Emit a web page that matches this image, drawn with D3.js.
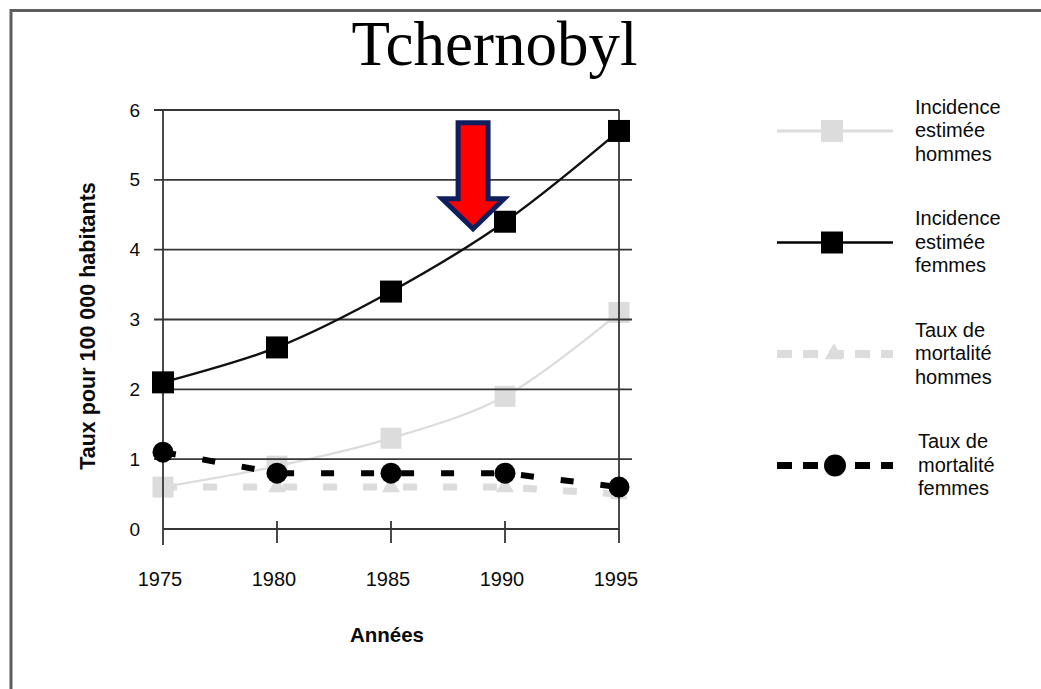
<!DOCTYPE html>
<html>
<head>
<meta charset="utf-8">
<script src="https://cdn.jsdelivr.net/npm/d3@7"></script>
<style>
  html, body { margin: 0; padding: 0; background: #fff; }
  svg { display: block; }
</style>
</head>
<body>
<svg id="chart" width="1041" height="689"></svg>
<script>
// ---- data ----
const years = [1975, 1980, 1985, 1990, 1995];
const incidenceHommes = [0.6, 0.9, 1.3, 1.9, 3.1];
const incidenceFemmes = [2.1, 2.6, 3.4, 4.4, 5.7];
const mortaliteHommes = [0.6, 0.6, 0.6, 0.6, 0.5];
const mortaliteFemmes = [1.1, 0.8, 0.8, 0.8, 0.6];
const yTicks = [0, 1, 2, 3, 4, 5, 6];
const xTickLabels = ["1975", "1980", "1985", "1990", "1995"];
const legendLabels = [
  ["Incidence", "estimée", "hommes"],
  ["Incidence", "estimée", "femmes"],
  ["Taux de", "mortalité", "hommes"],
  ["Taux de", "mortalité", "femmes"]
];
const titleText = "Tchernobyl";
const xTitleText = "Années";
const yTitleText = "Taux pour 100 000 habitants";
// annotation arrow: where its tip points
const arrowYear = 1988.6;
const arrowValue = 4.3;

// ---- layout ----
const svg = d3.select("#chart");
const sans = "'Liberation Sans', Arial, sans-serif";
const grey = "#dcdcdc";
const gridColor = "#363636";
const ink = "#0a0a0a";

const x = d3.scaleLinear().domain([1975, 1995]).range([163, 619]);
const y = d3.scaleLinear().domain([0, 6]).range([529, 110]);

// outer frame (top and left edges)
svg.append("path")
  .attr("d", "M11,689 L11,10.5 L1041,10.5")
  .attr("fill", "none")
  .attr("stroke", "#5e5e5e")
  .attr("stroke-width", 3);

// title
svg.append("text")
  .attr("x", 494.5).attr("y", 65)
  .attr("text-anchor", "middle")
  .attr("font-family", "'Liberation Serif', 'Times New Roman', serif")
  .attr("font-size", 63)
  .attr("fill", "#000")
  .text(titleText);

const pts = arr => years.map((yr, i) => [yr, arr[i]]);
const smooth = d3.line().x(d => x(d[0])).y(d => y(d[1])).curve(d3.curveCatmullRom);
const straight = d3.line().x(d => x(d[0])).y(d => y(d[1]));

// ---- grey series (beneath grid) ----
const gGrey = svg.append("g");
gGrey.append("path")
  .attr("d", smooth(pts(incidenceHommes)))
  .attr("fill", "none").attr("stroke", grey).attr("stroke-width", 2.3);
gGrey.append("path")
  .attr("d", straight(pts(mortaliteHommes)))
  .attr("fill", "none").attr("stroke", grey).attr("stroke-width", 7)
  .attr("stroke-dasharray", "14,26");
gGrey.selectAll("path.sqH").data(pts(incidenceHommes)).join("path")
  .attr("class", "sqH")
  .attr("transform", d => `translate(${x(d[0])},${y(d[1])})`)
  .attr("d", d3.symbol(d3.symbolSquare, 21 * 21)())
  .attr("fill", grey);
gGrey.selectAll("path.triH").data(pts(mortaliteHommes)).join("path")
  .attr("class", "triH")
  .attr("transform", d => `translate(${x(d[0])},${y(d[1])})`)
  .attr("d", d3.symbol(d3.symbolTriangle, 140)())
  .attr("fill", grey);

// ---- grid and axes ----
const gGrid = svg.append("g");
gGrid.selectAll("line.grid").data(yTicks.filter(v => v > 0)).join("line")
  .attr("class", "grid")
  .attr("x1", 154)
  .attr("x2", v => v === 6 ? x(1995) : 632)
  .attr("y1", v => y(v)).attr("y2", v => y(v))
  .attr("stroke", gridColor).attr("stroke-width", 1.8);
// baseline
gGrid.append("line")
  .attr("x1", x(1975)).attr("x2", x(1995))
  .attr("y1", y(0)).attr("y2", y(0))
  .attr("stroke", gridColor).attr("stroke-width", 1.8);
// left axis and right border
gGrid.append("line")
  .attr("x1", x(1975)).attr("x2", x(1975))
  .attr("y1", y(6)).attr("y2", y(0) + 16)
  .attr("stroke", gridColor).attr("stroke-width", 1.8);
gGrid.append("line")
  .attr("x1", x(1995)).attr("x2", x(1995))
  .attr("y1", y(6)).attr("y2", y(0) + 14)
  .attr("stroke", gridColor).attr("stroke-width", 1.8);
// x ticks crossing the baseline
gGrid.selectAll("line.xtick").data(years.slice(1, -1)).join("line")
  .attr("class", "xtick")
  .attr("x1", d => x(d)).attr("x2", d => x(d))
  .attr("y1", y(0) - 8).attr("y2", y(0) + 14)
  .attr("stroke", gridColor).attr("stroke-width", 1.8);

// y tick labels
const yAxis = d3.axisLeft(y).tickValues(yTicks).tickSize(0).tickPadding(23).tickFormat(d3.format("d"));
const gy = svg.append("g").attr("transform", `translate(${x(1975)},0)`).call(yAxis);
gy.select(".domain").remove();
gy.selectAll("text")
  .attr("font-family", sans).attr("font-size", 19).attr("fill", ink);

// x tick labels
const xAxis = d3.axisBottom(x).tickValues(years).tickSize(0)
  .tickFormat((d, i) => xTickLabels[i]);
const gx = svg.append("g").attr("transform", `translate(0,${y(0)})`).call(xAxis);
gx.select(".domain").remove();
gx.selectAll("text")
  .attr("y", 57).attr("dy", 0).attr("dx", -3.5)
  .attr("font-family", sans).attr("font-size", 20).attr("fill", ink);

// axis titles
svg.append("text")
  .attr("x", 387).attr("y", 642)
  .attr("text-anchor", "middle")
  .attr("font-family", sans).attr("font-size", 20.5).attr("font-weight", "bold")
  .attr("fill", ink)
  .text(xTitleText);
svg.append("text")
  .attr("transform", "translate(95,326) rotate(-90)")
  .attr("text-anchor", "middle")
  .attr("font-family", sans).attr("font-size", 21.5).attr("font-weight", "bold")
  .attr("fill", ink)
  .text(yTitleText);

// ---- black series ----
const gBlack = svg.append("g");
gBlack.append("path")
  .attr("d", smooth(pts(incidenceFemmes)))
  .attr("fill", "none").attr("stroke", "#111").attr("stroke-width", 2.4);
gBlack.append("path")
  .attr("d", straight(pts(mortaliteFemmes)))
  .attr("fill", "none").attr("stroke", "#000").attr("stroke-width", 6)
  .attr("stroke-dasharray", "13,27");
gBlack.selectAll("path.sqF").data(pts(incidenceFemmes)).join("path")
  .attr("class", "sqF")
  .attr("transform", d => `translate(${x(d[0])},${y(d[1])})`)
  .attr("d", d3.symbol(d3.symbolSquare, 22 * 22)())
  .attr("fill", "#000");
gBlack.selectAll("circle.cF").data(pts(mortaliteFemmes)).join("circle")
  .attr("class", "cF")
  .attr("cx", d => x(d[0])).attr("cy", d => y(d[1]))
  .attr("r", 10.5)
  .attr("fill", "#000");

// ---- annotation arrow ----
const tipX = x(arrowYear), tipY = y(arrowValue);
const arrowPts = [
  [tipX - 15, tipY - 106], [tipX + 15, tipY - 106], [tipX + 15, tipY - 30],
  [tipX + 31, tipY - 30], [tipX, tipY], [tipX - 31, tipY - 30], [tipX - 15, tipY - 30]
];
svg.append("path")
  .attr("d", d3.line()(arrowPts) + "Z")
  .attr("fill", "#ff0000")
  .attr("stroke", "#0f1f5e")
  .attr("stroke-width", 5)
  .attr("stroke-linejoin", "miter");

// ---- legend ----
const legendStyles = [
  { color: grey, width: 3, dash: null, marker: "square" },
  { color: "#000", width: 2.5, dash: null, marker: "square" },
  { color: grey, width: 8, dash: "15,11", marker: "triangle" },
  { color: "#000", width: 7, dash: "15,11", marker: "circle" }
];
const legend = svg.append("g");
legendLabels.forEach((lines, i) => {
  const st = legendStyles[i];
  const cy = 131 + i * 111.5;
  const g = legend.append("g").attr("transform", `translate(0,${cy})`);
  g.append("line")
    .attr("x1", 777).attr("x2", 893).attr("y1", 0).attr("y2", 0)
    .attr("stroke", st.color).attr("stroke-width", st.width)
    .attr("stroke-dasharray", st.dash);
  if (st.marker === "square") {
    g.append("path").attr("transform", "translate(832,0)")
      .attr("d", d3.symbol(d3.symbolSquare, 22 * 22)()).attr("fill", st.color);
  } else if (st.marker === "triangle") {
    g.append("path").attr("transform", "translate(834,0)")
      .attr("d", d3.symbol(d3.symbolTriangle, 150)()).attr("fill", st.color);
  } else {
    g.append("circle").attr("cx", 835).attr("cy", 0).attr("r", 11).attr("fill", st.color);
  }
  const t = g.append("text")
    .attr("font-family", sans).attr("font-size", 20).attr("fill", ink);
  lines.forEach((ln, j) => {
    t.append("tspan").attr("x", i === 3 ? 918 : 915).attr("y", (j - 1) * 23.5 + 6).text(ln);
  });
});
</script>
</body>
</html>
